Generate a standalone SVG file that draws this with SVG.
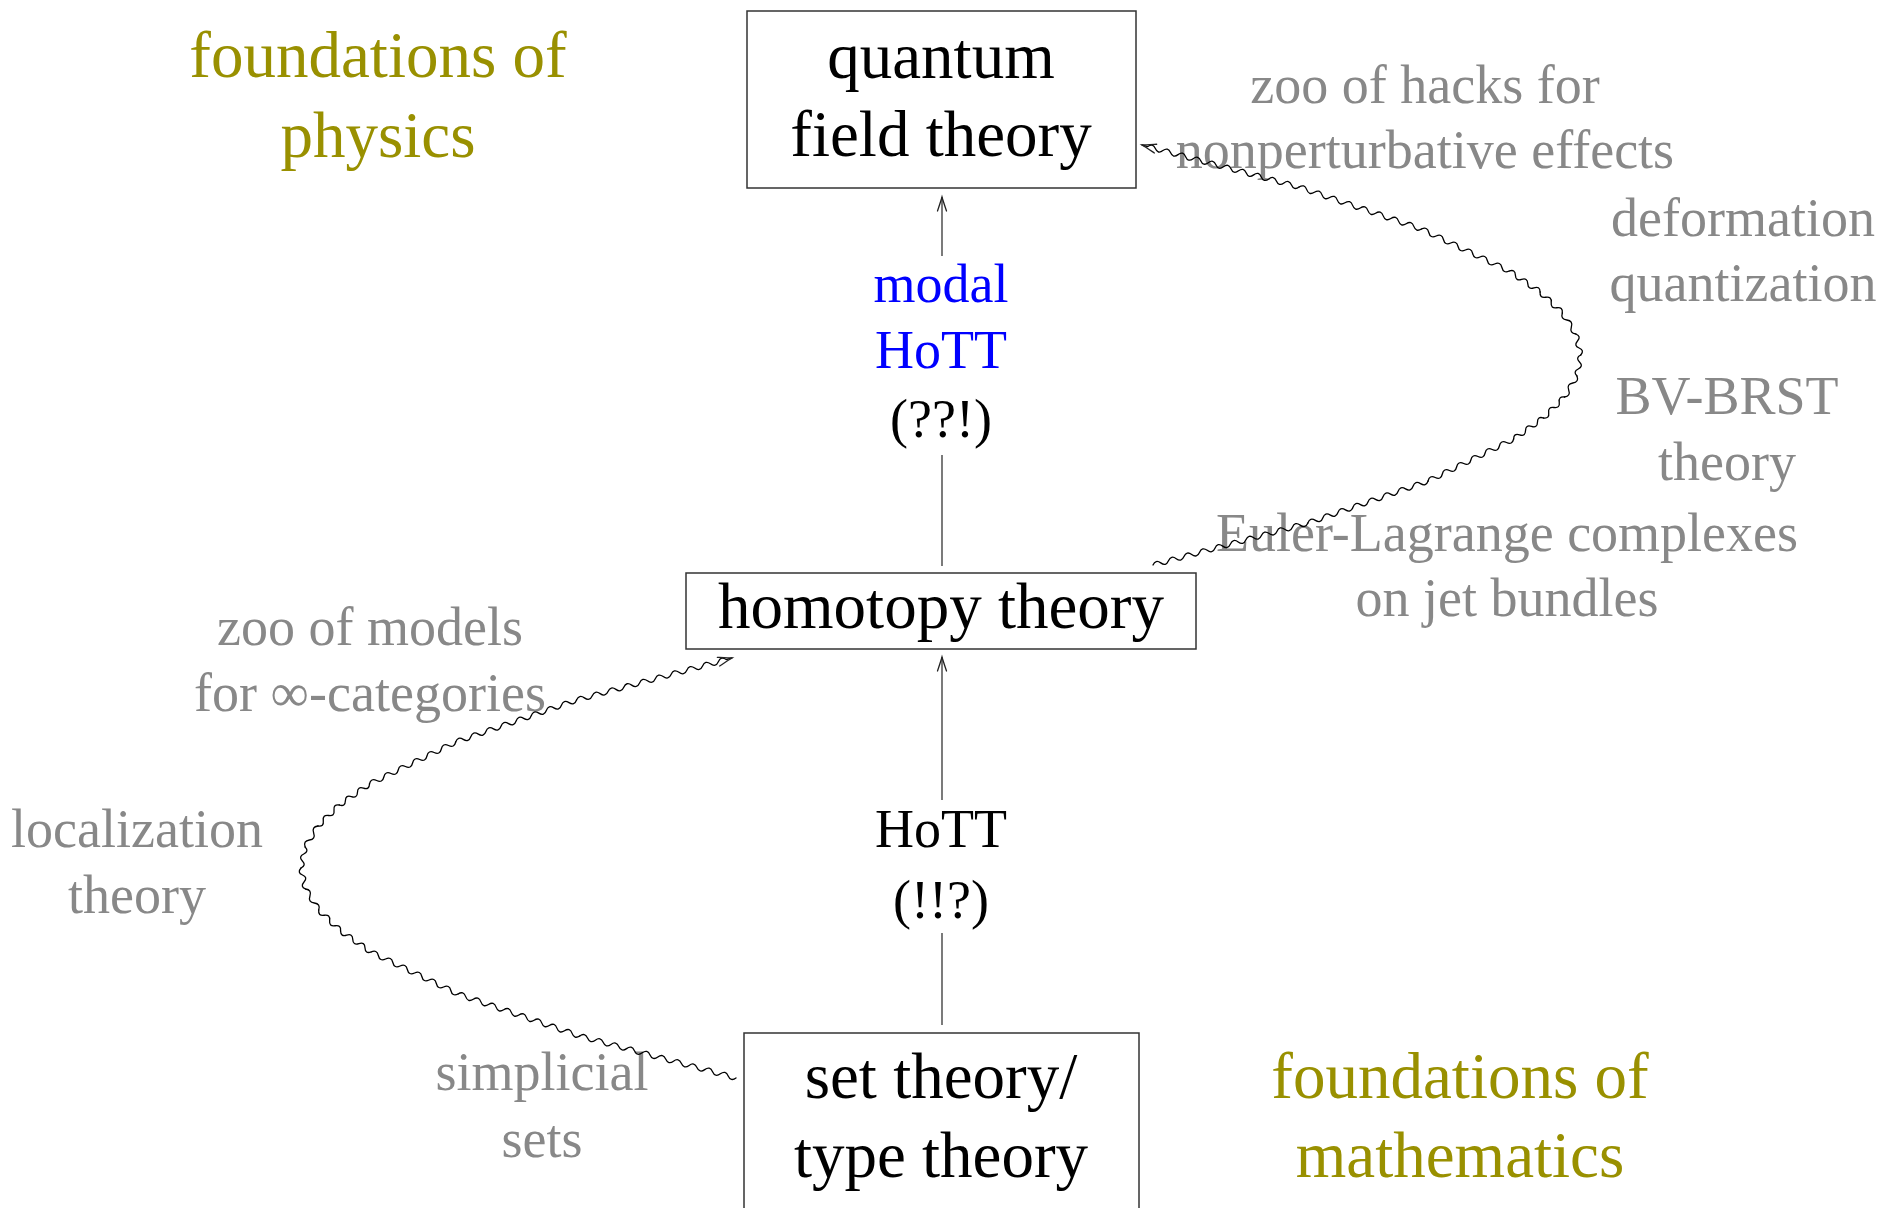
<svg xmlns="http://www.w3.org/2000/svg" width="1889" height="1208" viewBox="0 0 1889 1208">
<defs>
<style>
.box{fill:none;stroke:#333;stroke-width:1.5}
.nt{font-family:"Liberation Serif",serif;font-size:65px;text-anchor:middle;fill:#000}
.fd{font-family:"Liberation Serif",serif;font-size:65px;text-anchor:middle;fill:#999000}
.lb{font-family:"Liberation Serif",serif;font-size:54px;text-anchor:middle;fill:#888}
.el{font-family:"Liberation Serif",serif;font-size:54px;text-anchor:middle;fill:#000}
.blue{fill:#0000ff}
.edge{fill:none;stroke:#333;stroke-width:1.3}
.wave path{fill:none;stroke:#000;stroke-width:1.3;stroke-linecap:round;stroke-linejoin:round}
</style>
<marker id="to" markerUnits="userSpaceOnUse" markerWidth="20" markerHeight="14" viewBox="-16 -7 20 14" refX="0" refY="0" orient="auto" overflow="visible">
<path d="M-14,-4.5 C-8,-2.5 -3,-0.8 0,0 C-3,0.8 -8,2.5 -14,4.5" fill="none" stroke="#222" stroke-width="1.3" stroke-linecap="round"/>
</marker>
</defs>
<rect width="1889" height="1208" fill="#fff"/>

<g id="label-foundations-physics">
<text class="fd" x="378" y="77">foundations of</text>
<text class="fd" x="378" y="157">physics</text>
</g>
<g id="label-foundations-math">
<text class="fd" x="1460" y="1098">foundations of</text>
<text class="fd" x="1460" y="1177">mathematics</text>
</g>
<g id="label-zoo-hacks">
<text class="lb" x="1425" y="103">zoo of hacks for</text>
<text class="lb" x="1425" y="168">nonperturbative effects</text>
</g>
<g id="label-deformation">
<text class="lb" x="1743" y="236">deformation</text>
<text class="lb" x="1743" y="301">quantization</text>
</g>
<g id="label-bv-brst">
<text class="lb" x="1727" y="414">BV-BRST</text>
<text class="lb" x="1727" y="480">theory</text>
</g>
<g id="label-euler-lagrange">
<text class="lb" x="1507" y="551">Euler-Lagrange complexes</text>
<text class="lb" x="1507" y="616">on jet bundles</text>
</g>
<g id="label-zoo-models">
<text class="lb" x="370" y="645">zoo of models</text>
<text class="lb" x="370" y="711">for ∞-categories</text>
</g>
<g id="label-localization">
<text class="lb" x="137" y="847">localization</text>
<text class="lb" x="137" y="913">theory</text>
</g>
<g id="label-simplicial">
<text class="lb" x="542" y="1090">simplicial</text>
<text class="lb" x="542" y="1157">sets</text>
</g>

<g id="node-qft">
<rect class="box" x="747" y="11" width="389" height="177"/>
<text class="nt" x="941" y="78">quantum</text>
<text class="nt" x="941" y="156">field theory</text>
</g>
<g id="node-homotopy">
<rect class="box" x="686" y="573" width="510" height="76"/>
<text class="nt" x="941" y="628">homotopy theory</text>
</g>
<g id="node-settheory">
<rect class="box" x="744" y="1033" width="395" height="200"/>
<text class="nt" x="941" y="1098">set theory/</text>
<text class="nt" x="941" y="1177">type theory</text>
</g>

<g id="connectors">
<g id="edge-modal-hott">
<line class="edge" x1="942" y1="566" x2="942" y2="455"/>
<line class="edge" x1="942" y1="256" x2="942" y2="197" marker-end="url(#to)"/>
<text class="el blue" x="941" y="302">modal</text>
<text class="el blue" x="941" y="368">HoTT</text>
<text class="el" x="941" y="437">(??!)</text>
</g>
<g id="edge-hott">
<line class="edge" x1="942" y1="1025" x2="942" y2="933"/>
<line class="edge" x1="942" y1="800" x2="942" y2="657" marker-end="url(#to)"/>
<text class="el" x="941" y="847">HoTT</text>
<text class="el" x="941" y="918">(!!?)</text>
</g>
<g id="wave-right" class="wave">
<path transform="translate(1153,565) rotate(-15.17)" d="M0,0q4.012,-5 8.024,0t8.024,0 8.024,0 8.024,0 8.024,0 8.024,0 8.024,0 8.024,0 8.024,0 8.024,0 8.024,0 8.024,0 8.024,0 8.024,0 8.024,0 8.024,0 8.024,0 8.024,0 8.024,0 8.024,0"/>
<path transform="translate(1307.87,523) rotate(-19.26)" d="M0,0q3.979,-5 7.958,0t7.958,0 7.958,0 7.958,0 7.958,0 7.958,0 7.958,0 7.958,0 7.958,0 7.958,0 7.958,0 7.958,0 7.958,0 7.958,0 7.958,0 7.958,0"/>
<path transform="translate(1428.08,481) rotate(-26.15)" d="M0,0q3.971,-5 7.942,0t7.942,0 7.942,0 7.942,0 7.942,0 7.942,0 7.942,0 7.942,0 7.942,0 7.942,0 7.942,0 7.942,0"/>
<path transform="translate(1513.63,439) rotate(-35.19)" d="M0,0q3.644,-5 7.288,0t7.288,0 7.288,0 7.288,0 7.288,0"/>
<path transform="translate(1543.41,418) rotate(-44.85)" d="M0,0q3.7225,5 7.445,0t7.445,0 7.445,0 7.445,0"/>
<path transform="translate(1564.52,397) rotate(-59.33)" d="M0,0q4.0685,5 8.137,0t8.137,0 8.137,0"/>
<path transform="translate(1576.97,376) rotate(-79.8)" d="M0,0q3.5565,-5 7.113,0t7.113,0 7.113,0"/>
<path transform="translate(1580.75,355) rotate(-103.08)" d="M0,0q3.5935,5 7.187,0t7.187,0 7.187,0"/>
<path transform="translate(1575.87,334) rotate(-122.83)" d="M0,0q4.165,-5 8.33,0t8.33,0 8.33,0"/>
<path transform="translate(1562.32,313) rotate(-136.61)" d="M0,0q3.8215,5 7.643,0t7.643,0 7.643,0 7.643,0"/>
<path transform="translate(1540.11,292) rotate(-145.78)" d="M0,0q3.734,5 7.468,0t7.468,0 7.468,0 7.468,0 7.468,0"/>
<path transform="translate(1509.23,271) rotate(-154.42)" d="M0,0q4.0535,-5 8.107,0t8.107,0 8.107,0 8.107,0 8.107,0 8.107,0 8.107,0 8.107,0 8.107,0 8.107,0 8.107,0 8.107,0"/>
<path transform="translate(1421.48,229) rotate(-161.07)" d="M0,0q4.044,-5 8.088,0t8.088,0 8.088,0 8.088,0 8.088,0 8.088,0 8.088,0 8.088,0 8.088,0 8.088,0 8.088,0 8.088,0 8.088,0 8.088,0 8.088,0 8.088,0"/>
<path transform="translate(1299.07,187) rotate(-165.03)" d="M0,0q3.915,-5 7.83,0t7.83,0 7.83,0 7.83,0 7.83,0 7.83,0 7.83,0 7.83,0 7.83,0 7.83,0 7.83,0 7.83,0 7.83,0 7.83,0 7.83,0 7.83,0 7.83,0 7.83,0 7.83,0 7.83,0l6,0" marker-end="url(#to)"/>
</g>
<g id="wave-left" class="wave">
<path transform="translate(736,1078) rotate(-164.96)" d="M0,0q4.046,-5 8.092,0t8.092,0 8.092,0 8.092,0 8.092,0 8.092,0 8.092,0 8.092,0 8.092,0 8.092,0 8.092,0 8.092,0 8.092,0 8.092,0 8.092,0 8.092,0 8.092,0 8.092,0 8.092,0 8.092,0"/>
<path transform="translate(579.72,1036) rotate(-160.95)" d="M0,0q4.0215,-5 8.043,0t8.043,0 8.043,0 8.043,0 8.043,0 8.043,0 8.043,0 8.043,0 8.043,0 8.043,0 8.043,0 8.043,0 8.043,0 8.043,0 8.043,0 8.043,0"/>
<path transform="translate(458.08,994) rotate(-154.23)" d="M0,0q4.0255,-5 8.051,0t8.051,0 8.051,0 8.051,0 8.051,0 8.051,0 8.051,0 8.051,0 8.051,0 8.051,0 8.051,0 8.051,0"/>
<path transform="translate(371.08,952) rotate(-145.46)" d="M0,0q3.704,-5 7.408,0t7.408,0 7.408,0 7.408,0 7.408,0"/>
<path transform="translate(340.57,931) rotate(-136.14)" d="M0,0q3.789,5 7.578,0t7.578,0 7.578,0 7.578,0"/>
<path transform="translate(318.72,910) rotate(-122.13)" d="M0,0q4.1335,5 8.267,0t8.267,0 8.267,0"/>
<path transform="translate(305.53,889) rotate(-102.17)" d="M0,0q3.58,-5 7.16,0t7.16,0 7.16,0"/>
<path transform="translate(301,868) rotate(-78.87)" d="M0,0q3.5665,5 7.133,0t7.133,0 7.133,0"/>
<path transform="translate(305.13,847) rotate(-58.66)" d="M0,0q4.0985,-5 8.197,0t8.197,0 8.197,0"/>
<path transform="translate(317.92,826) rotate(-44.39)" d="M0,0q3.7525,5 7.505,0t7.505,0 7.505,0 7.505,0"/>
<path transform="translate(339.37,805) rotate(-34.9)" d="M0,0q3.671,5 7.342,0t7.342,0 7.342,0 7.342,0 7.342,0"/>
<path transform="translate(369.48,784) rotate(-25.98)" d="M0,0q3.9955,-5 7.991,0t7.991,0 7.991,0 7.991,0 7.991,0 7.991,0 7.991,0 7.991,0 7.991,0 7.991,0 7.991,0 7.991,0"/>
<path transform="translate(455.68,742) rotate(-19.16)" d="M0,0q3.998,-5 7.996,0t7.996,0 7.996,0 7.996,0 7.996,0 7.996,0 7.996,0 7.996,0 7.996,0 7.996,0 7.996,0 7.996,0 7.996,0 7.996,0 7.996,0 7.996,0"/>
<path transform="translate(576.52,700) rotate(-15.12)" d="M0,0q4.0805,-5 8.161,0t8.161,0 8.161,0 8.161,0 8.161,0 8.161,0 8.161,0 8.161,0 8.161,0 8.161,0 8.161,0 8.161,0 8.161,0 8.161,0 8.161,0 8.161,0 8.161,0 8.161,0 8.161,0l6,0" marker-end="url(#to)"/>
</g>
</g>
</svg>
